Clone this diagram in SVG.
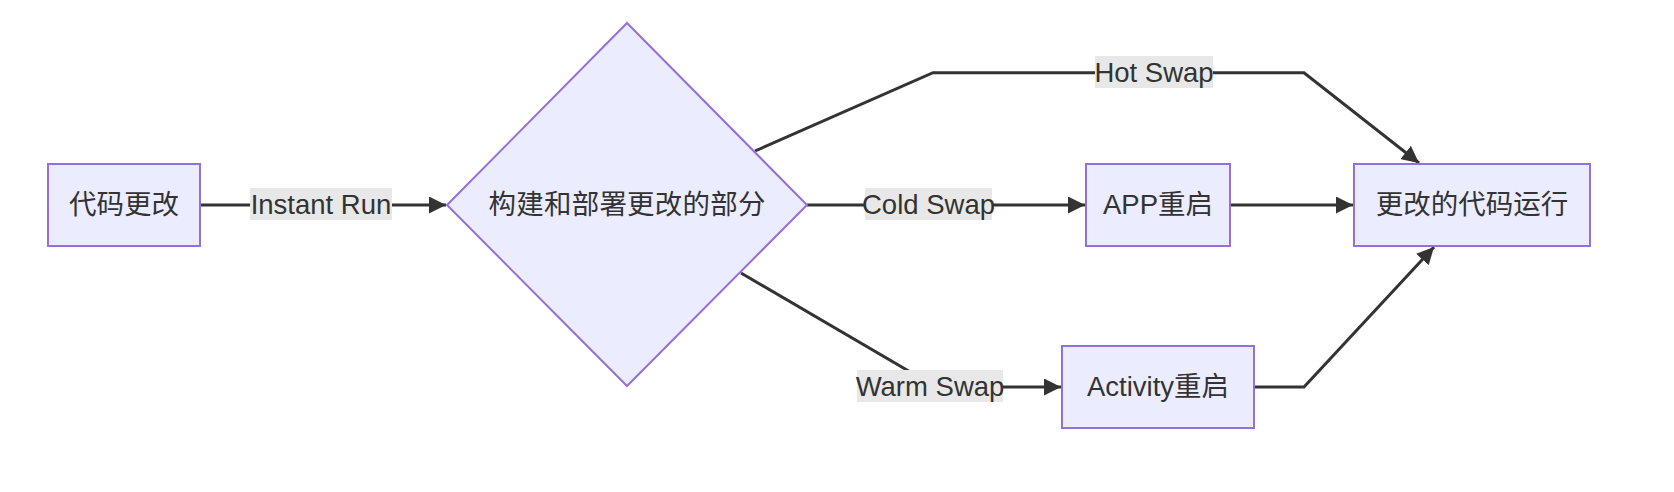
<svg xmlns="http://www.w3.org/2000/svg" width="1674" height="492" viewBox="0 0 1674 492">
<style>
.node rect, .node polygon { fill: #ECECFF; stroke: #9370DB; stroke-width: 2; }
.node text { fill: #333333; font-family: "Liberation Sans", "Noto Sans CJK SC", sans-serif; font-size: 27.5px; text-anchor: middle; dominant-baseline: central; }
.edge { fill: none; stroke: #333333; stroke-width: 3; marker-end: url(#arrow); }
.lbl rect { fill: #E8E8E8; stroke: none; }
.lbl text { fill: #333333; font-family: "Liberation Sans", "Noto Sans CJK SC", sans-serif; font-size: 27.5px; text-anchor: middle; dominant-baseline: central; }
</style>
<defs>
<marker id="arrow" viewBox="0 0 10 10" refX="10" refY="5" markerUnits="userSpaceOnUse" markerWidth="17" markerHeight="17" orient="auto">
<path d="M0,0 L10,5 L0,10 z" fill="#333333"/>
</marker>
</defs>
<rect width="1674" height="492" fill="#FFFFFF"/>
<g id="connectors">
<path class="edge" d="M200,205 L446,205"/>
<path class="edge" d="M755,151 L933,72.7 L1304,72.7 L1419,163"/>
<path class="edge" d="M807,205 L1085,205"/>
<path class="edge" d="M741,273 L936,387 L1061,387"/>
<path class="edge" d="M1230,205 L1353,205"/>
<path class="edge" d="M1254,387 L1304,387 L1434,247"/>
<g class="lbl"><rect x="250" y="188" width="142" height="32"/><text x="321" y="204">Instant Run</text></g>
<g class="lbl"><rect x="1095" y="56" width="118" height="32"/><text x="1154" y="72">Hot Swap</text></g>
<g class="lbl"><rect x="865" y="188" width="127" height="32"/><text x="928.5" y="204">Cold Swap</text></g>
<g class="lbl"><rect x="857" y="370" width="146" height="32"/><text x="930" y="386">Warm Swap</text></g>
</g>
<g id="A" class="node"><rect x="48" y="164" width="152" height="82"/><text x="124" y="204">代码更改</text></g>
<g id="B" class="node"><polygon points="447,205 627,23 807,205 627,386"/><text x="627" y="204" textLength="277" lengthAdjust="spacing">构建和部署更改的部分</text></g>
<g id="C" class="node"><rect x="1086" y="164" width="144" height="82"/><text x="1158" y="204">APP重启</text></g>
<g id="E" class="node"><rect x="1062" y="346" width="192" height="82"/><text x="1158" y="386">Activity重启</text></g>
<g id="D" class="node"><rect x="1354" y="164" width="236" height="82"/><text x="1472" y="204">更改的代码运行</text></g>
</svg>
